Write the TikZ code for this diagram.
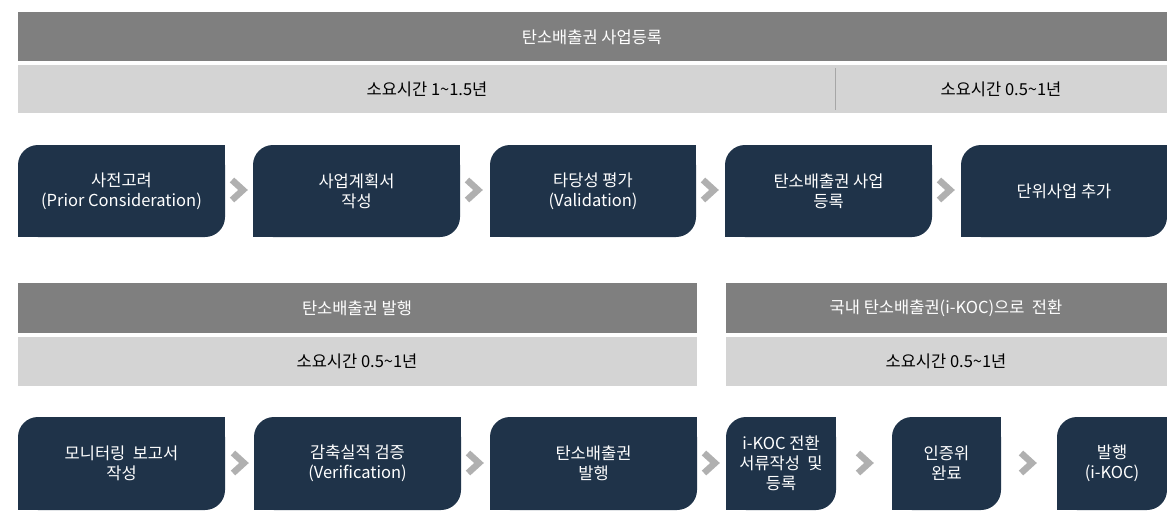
\documentclass[tikz,border=0pt]{standalone}
\usepackage{fontspec}
\setmainfont{Noto Sans CJK KR}
\definecolor{navy}{HTML}{1F3349}
\definecolor{hdr}{HTML}{7F7F7F}
\definecolor{lt}{HTML}{D4D4D4}
\definecolor{chev}{HTML}{B0B0B0}
\tikzset{
  txt/.style={text=white,align=center,font=\fontsize{16.5}{20}\selectfont},
  btxt/.style={text=black,align=center,font=\fontsize{16.5}{20}\selectfont},
  chevron/.style={draw=chev,line width=6.5pt,miter limit=10,line join=miter},
}
\newcommand{\mybox}[6]{%
  \fill[navy,rounded corners=20pt] (#1,#2) rectangle (#3,#4);
  \fill[navy] (#3-22,#2) rectangle (#3,#2+22);
  \fill[navy] (#1,#4-22) rectangle (#1+22,#4);
  \node[txt] (#5) at ({(#1+#3)/2},{(#2+#4)/2}) {#6};}
\newcommand{\mychev}[3]{\coordinate (#1) at (#2,#3);
  \draw[chevron] ([shift={(-7,-10)}]#1) -- ([shift={(4,0)}]#1) -- ([shift={(-7,10)}]#1);}
\begin{document}
\begin{tikzpicture}[x=1pt,y=-1pt]
\useasboundingbox[fill=white] (0,0) rectangle (1167,523);
% top section
\fill[hdr] (18,12) rectangle (1167,61);
\node[txt] (h1) at (592,37) {탄소배출권 사업등록};
\fill[lt] (18,65) rectangle (1167,113);
\draw[gray!70,line width=1pt] (835,68) -- (835,110);
\node[btxt] (t1) at (427,89) {소요시간 1\textasciitilde1.5년};
\node[btxt] (t2) at (1001,89) {소요시간 0.5\textasciitilde1년};
\mybox{18}{145}{225}{237}{a1}{사전고려\\(Prior Consideration)}
\mybox{253}{145}{460}{237}{a2}{사업계획서\\작성}
\mybox{490}{145}{696}{237}{a3}{타당성 평가\\(Validation)}
\mybox{725}{145}{932}{237}{a4}{탄소배출권 사업\\등록}
\mybox{961}{145}{1167}{237}{a5}{단위사업 추가}
\mychev{c1}{239}{190}\mychev{c2}{474}{190}\mychev{c3}{710}{190}\mychev{c4}{946}{190}
% bottom section
\fill[hdr] (18,283) rectangle (697,333);
\node[txt] (h2) at (357,308) {탄소배출권 발행};
\fill[hdr] (726,283) rectangle (1167,333);
\node[txt] (h3) at (946,308) {국내 탄소배출권(i-KOC)으로 \ 전환};
\fill[lt] (18,337) rectangle (697,386);
\node[btxt] (t3) at (357,361) {소요시간 0.5\textasciitilde1년};
\fill[lt] (726,337) rectangle (1167,386);
\node[btxt] (t4) at (946,361) {소요시간 0.5\textasciitilde1년};
\mybox{18}{417}{225}{510}{b1}{모니터링 \ 보고서\\작성}
\mybox{254}{417}{461}{510}{b2}{감축실적 검증\\(Verification)}
\mybox{490}{417}{697}{510}{b3}{탄소배출권\\발행}
\mybox{726}{417}{836}{510}{b4}{i-KOC 전환\\서류작성 \ 및\\등록}
\mybox{892}{417}{1001}{510}{b5}{인증위\\완료}
\mybox{1057}{417}{1167}{510}{b6}{발행\\(i-KOC)}
\mychev{d1}{240}{463}\mychev{d2}{475}{463}\mychev{d3}{711}{463}\mychev{d4}{865}{463}\mychev{d5}{1028}{463}
\end{tikzpicture}
\end{document}
